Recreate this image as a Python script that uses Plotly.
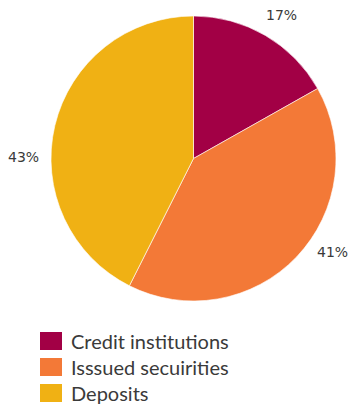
import plotly.graph_objects as go

# Funding structure shares (%)
categories = ["Credit institutions", "Isssued secuirities", "Deposits"]
shares = [17, 41, 43]
colors = ["#A20045", "#F37937", "#F0B114"]

# Anchor points (paper coords) for the outside percentage labels
label_x = [0.804, 0.951, 0.066]
label_y = [0.963, 0.382, 0.614]

W, H = 350, 407

fig = go.Figure(
    go.Pie(
        labels=categories,
        values=shares,
        marker=dict(colors=colors, line=dict(color="white", width=0.6)),
        sort=False,
        direction="clockwise",
        rotation=0,
        textinfo="none",
        hoverinfo="label+value",
        showlegend=False,
        domain=dict(x=[51 / W, 336 / W], y=[1 - 301 / H, 1 - 16 / H]),
    )
)

annotations = []
for v, x, y in zip(shares, label_x, label_y):
    annotations.append(
        dict(
            x=x, y=y, xref="paper", yref="paper",
            text=f"{v}%", showarrow=False,
            font=dict(family="DejaVu Sans", size=14, color="#3a3a3a"),
            xanchor="center", yanchor="middle",
        )
    )

# Legend built from category names and slice colours
shapes = []
row_top = 332
row_step = 26
for i, (name, c) in enumerate(zip(categories, colors)):
    top = row_top + i * row_step
    shapes.append(
        dict(
            type="rect", xref="paper", yref="paper",
            x0=40 / W, x1=62 / W, y0=1 - (top + 18) / H, y1=1 - top / H,
            fillcolor=c, line=dict(width=0),
        )
    )
    annotations.append(
        dict(
            x=69 / W, y=1 - (top + 9) / H, xref="paper", yref="paper",
            text=name, showarrow=False,
            font=dict(family="Lato", size=20, color="#3a3a3a"),
            xanchor="left", yanchor="middle",
        )
    )

fig.update_layout(
    width=W, height=H,
    margin=dict(l=0, r=0, t=0, b=0),
    paper_bgcolor="white", plot_bgcolor="white",
    annotations=annotations, shapes=shapes,
)

fig.write_html("out.html")
